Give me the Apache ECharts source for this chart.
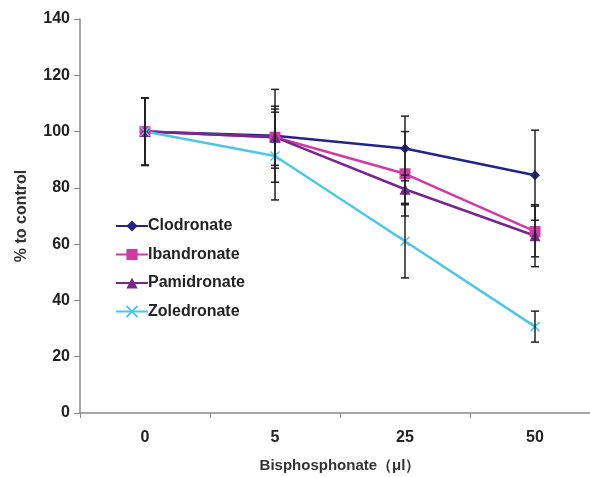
<!DOCTYPE html>
<html>
<head>
<meta charset="utf-8">
<script src="https://cdn.jsdelivr.net/npm/echarts@6/dist/echarts.min.js"></script>
<style>
html, body { margin: 0; padding: 0; background: #fff; }
#main { width: 590px; height: 477px; }
</style>
</head>
<body>
<div id="main"></div>
<script>
var doses = ['0', '5', '25', '50'];
var seriesNames = ['Clodronate', 'Ibandronate', 'Pamidronate', 'Zoledronate'];

var clodronate = [100, 98.5, 94, 84.5];
var ibandronate = [100, 98, 85, 64.5];
var pamidronate = [100, 98, 79.5, 63];
var zoledronate = [100, 91.3, 61, 30.7];

// error bar half widths (+/-)
var clodronateErr = [12, 16.5, 11.5, 16];
var ibandronateErr = [12, 11, 15, 9];
var pamidronateErr = [12, 10, 5, 11];
var zoledronateErr = [12, 15.6, 13, 5.5];

var colors = ['#23238a', '#d23aa3', '#77278c', '#4ec6e6'];
var symbols = ['diamond', 'rect', 'triangle', 'path://M0,0L10,10M10,0L0,10'];
var symbolSizes = [10, 11, 11, 9];

var values = [clodronate, ibandronate, pamidronate, zoledronate];
var errs = [clodronateErr, ibandronateErr, pamidronateErr, zoledronateErr];

var errData = [];
values.forEach(function (v, s) {
    v.forEach(function (y, i) {
        errData.push([i, y - errs[s][i], y + errs[s][i]]);
    });
});

var myChart = echarts.init(document.getElementById('main'));

var series = seriesNames.map(function (name, s) {
    return {
        name: name,
        type: 'line',
        data: values[s],
        symbol: symbols[s],
        symbolSize: symbolSizes[s],
        z: 3,
        lineStyle: { color: colors[s], width: 2.5 },
        itemStyle: {
            color: colors[s],
            borderColor: colors[s],
            borderWidth: s === 3 ? 1.5 : 0
        }
    };
});

series.push({
    type: 'custom',
    z: 4,
    renderItem: function (params, api) {
        var x = api.value(0);
        var lo = api.coord([x, api.value(1)]);
        var hi = api.coord([x, api.value(2)]);
        var w = 4;
        var st = { stroke: '#222', lineWidth: 1.5 };
        return {
            type: 'group',
            children: [
                { type: 'line', shape: { x1: lo[0], y1: lo[1], x2: hi[0], y2: hi[1] }, style: st },
                { type: 'line', shape: { x1: lo[0] - w, y1: lo[1], x2: lo[0] + w, y2: lo[1] }, style: st },
                { type: 'line', shape: { x1: hi[0] - w, y1: hi[1], x2: hi[0] + w, y2: hi[1] }, style: st }
            ]
        };
    },
    encode: { x: 0, y: [1, 2] },
    data: errData
});

var option = {
    animation: false,
    textStyle: { fontFamily: 'Liberation Sans, Arial, sans-serif' },
    grid: { left: 80, top: 19, width: 520, bottom: 64, outerBoundsMode: 'none' },
    legend: {
        data: seriesNames,
        orient: 'vertical',
        left: 110,
        top: 213,
        itemGap: 12.5,
        itemWidth: 32,
        itemHeight: 14,
        textStyle: { fontSize: 16, fontWeight: 'bold', color: '#222', padding: [0, 0, 0, -5] }
    },
    xAxis: {
        type: 'category',
        data: doses,
        boundaryGap: true,
        name: 'Bisphosphonate（μl）',
        nameLocation: 'middle',
        nameGap: 45,
        nameTextStyle: { fontSize: 15, fontWeight: 'bold', color: '#333' },
        axisLine: { lineStyle: { color: '#888', width: 1.5 } },
        axisTick: { show: true, length: 5, inside: false, lineStyle: { color: '#888' } },
        axisLabel: { fontSize: 16, fontWeight: 'bold', color: '#222', margin: 17 }
    },
    yAxis: {
        type: 'value',
        min: 0,
        max: 140,
        interval: 20,
        name: '% to control',
        nameLocation: 'middle',
        nameRotate: 90,
        nameGap: 50,
        nameTextStyle: { fontSize: 16, fontWeight: 'bold', color: '#333' },
        axisLine: { show: true, lineStyle: { color: '#888', width: 1.5 } },
        axisTick: { show: true, length: 6, lineStyle: { color: '#888' } },
        axisLabel: { fontSize: 16, fontWeight: 'bold', color: '#222', margin: 10 },
        splitLine: { show: false }
    },
    series: series
};

myChart.setOption(option);
</script>
</body>
</html>
